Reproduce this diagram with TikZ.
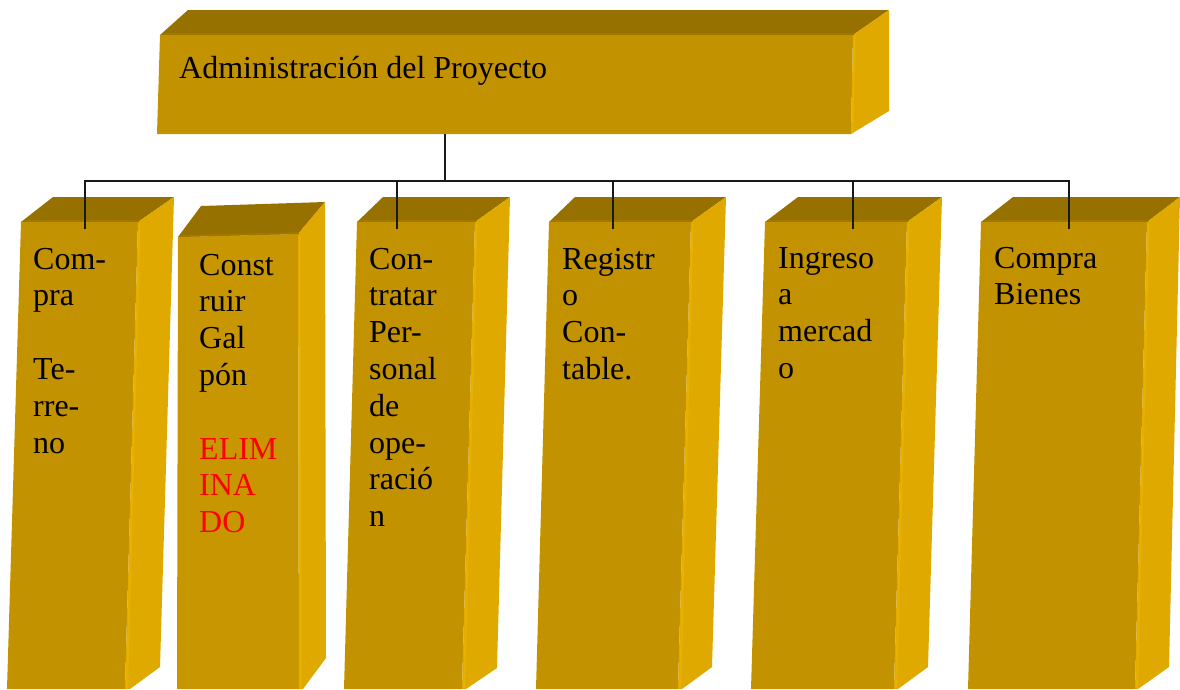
\documentclass[tikz,border=0pt]{standalone}
\usepackage{fontspec}
\setmainfont{Liberation Serif}
\definecolor{topc}{HTML}{977100}
\definecolor{frontc}{HTML}{C29200}
\definecolor{frontb}{HTML}{C89600}
\definecolor{sidec}{HTML}{E0A900}
\definecolor{edgec}{HTML}{E7B100}
\definecolor{bandc}{HTML}{9F7800}
\newcommand\colstack[1]{\begin{tabular}[t]{@{}l@{}}#1\end{tabular}}
\tikzset{
  topface/.style={fill=topc},
  frontface/.style={fill=frontc},
  sideface/.style={fill=sidec},
  edgeline/.style={draw=edgec, line width=2pt},
  bandline/.style={draw=bandc, line width=2pt},
  conn/.style={draw=black!90, line width=1.6pt},
  lbl/.style={anchor=base west, inner sep=0pt, font=\fontsize{32}{36.8}\selectfont}
}
\begin{document}
\begin{tikzpicture}[x=1pt,y=-1pt]
\useasboundingbox (0,0) rectangle (1180,689);

% ---- top box
\fill[topface] (160,35) -- (188,10) -- (889,10) -- (853,35) -- cycle;
\fill[frontface] (160,35) -- (853,35) -- (851,134) -- (157,134) -- cycle;
\fill[sideface] (853,35) -- (889,10) -- (889,111) -- (851,134) -- cycle;
\draw[bandline] (162,34) -- (854,34);
\draw[edgeline] (854.5,36) -- (852.5,133);

% ---- column 1
\fill[topface] (21,222) -- (53,197) -- (174,197) -- (138,222) -- cycle;
\fill[frontface] (21,222) -- (138,222) -- (125,689) -- (7,689) -- cycle;
\fill[sideface] (138,222) -- (174,197) -- (160,667) -- (130,689) -- (125,689) -- cycle;
\draw[bandline] (23,221) -- (139,221);
\draw[edgeline] (139.5,224) -- (127,689);

% ---- column 2
\fill[topface] (178,237) -- (201,206) -- (325,202) -- (298,234) -- cycle;
\fill[frontface, fill=frontb] (178,237) -- (298,234) -- (299,689) -- (177,689) -- cycle;
\fill[sideface] (298,234) -- (325,202) -- (326,658) -- (303,689) -- (299,689) -- cycle;
\draw[bandline] (180,236) -- (299,233);
\draw[edgeline] (299.5,236) -- (300.5,689);

% ---- column 3
\fill[topface] (357,222) -- (383,197) -- (510,197) -- (475,222) -- cycle;
\fill[frontface] (357,222) -- (475,222) -- (462,689) -- (344,689) -- cycle;
\fill[sideface] (475,222) -- (510,197) -- (497,668) -- (466,689) -- (462,689) -- cycle;
\draw[bandline] (359,221) -- (476,221);
\draw[edgeline] (476.5,224) -- (464,689);

% ---- column 4
\fill[topface] (549,222) -- (575,197) -- (726,197) -- (691,222) -- cycle;
\fill[frontface] (549,222) -- (691,222) -- (678,689) -- (536,689) -- cycle;
\fill[sideface] (691,222) -- (726,197) -- (712,667) -- (682,689) -- (678,689) -- cycle;
\draw[bandline] (551,221) -- (692,221);
\draw[edgeline] (692.5,224) -- (680,689);

% ---- column 5
\fill[topface] (765,222) -- (798,197) -- (942,197) -- (907,222) -- cycle;
\fill[frontface] (765,222) -- (907,222) -- (894,689) -- (751,689) -- cycle;
\fill[sideface] (907,222) -- (942,197) -- (928,667) -- (898,689) -- (894,689) -- cycle;
\draw[bandline] (767,221) -- (908,221);
\draw[edgeline] (908.5,224) -- (896,689);

% ---- column 6
\fill[topface] (981,222) -- (1013,197) -- (1180,197) -- (1147,222) -- cycle;
\fill[frontface] (981,222) -- (1147,222) -- (1135,689) -- (968,689) -- cycle;
\fill[sideface] (1147,222) -- (1180,197) -- (1169,667) -- (1138,689) -- (1135,689) -- cycle;
\draw[bandline] (983,221) -- (1148,221);
\draw[edgeline] (1148.5,224) -- (1137,689);

% ---- connection points
\coordinate (tb) at (445,134);
\coordinate (hub) at (445,181);
\coordinate (p1) at (85,229);
\coordinate (p3) at (397,229);
\coordinate (p4) at (613,229);
\coordinate (p5) at (853,229);
\coordinate (p6) at (1069,229);

% ---- connectors
\draw[conn] (tb) -- (hub);
\draw[conn] (p1) -- (p1 |- hub) -- (p6 |- hub) -- (p6);
\draw[conn] (p3 |- hub) -- (p3);
\draw[conn] (p4 |- hub) -- (p4);
\draw[conn] (p5 |- hub) -- (p5);

% ---- texts
\node[lbl] (ttop) at (179,78) {Administración del Proyecto};
\node[lbl] (t1) at (33,269) {\colstack{Com-\\pra\\ \\Te-\\rre-\\no}};
\node[lbl] (t2) at (199,275) {\colstack{Const\\ruir\\Gal\\pón\\ \\\textcolor{red}{ELIM}\\\textcolor{red}{INA}\\\textcolor{red}{DO}}};
\node[lbl] (t3) at (369,269) {\colstack{Con-\\tratar\\Per-\\sonal\\de\\ope-\\ració\\n}};
\node[lbl] (t4) at (562,269) {\colstack{Registr\\o\\Con-\\table.}};
\node[lbl] (t5) at (778,268) {\colstack{Ingreso\\a\\mercad\\o}};
\node[lbl] (t6) at (994,268) {\colstack{Compra\\Bienes}};
\end{tikzpicture}
\end{document}
